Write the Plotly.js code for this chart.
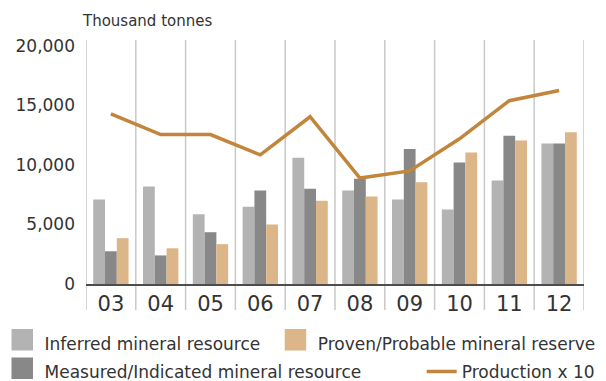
<!DOCTYPE html>
<html><head><meta charset="utf-8">
<script src="https://cdn.plot.ly/plotly-3.0.1.min.js"></script>
<style>html,body{margin:0;padding:0;background:#fff}</style>
</head><body><div id="chart" style="width:606px;height:381px"></div>
<script>
const years = ['03','04','05','06','07','08','09','10','11','12'];
const inferred = [7100, 8200, 5850, 6500, 10600, 7850, 7100, 6250, 8700, 11800];
const measured = [2750, 2400, 4350, 7850, 8000, 8850, 11350, 10200, 12450, 11800];
const proven = [3850, 3000, 3350, 5000, 7000, 7350, 8550, 11050, 12050, 12750];
const production = [14300, 12550, 12550, 10850, 14050, 8900, 9500, 12200, 15400, 16250];
const yTicks = [0, 5000, 10000, 15000, 20000];

const FONT = 'DejaVu Sans';
const traces = [
  {type:'bar', name:'Inferred mineral resource', x:years, y:inferred, marker:{color:'#b3b3b3'}, legend:'legend'},
  {type:'bar', name:'Measured/Indicated mineral resource', x:years, y:measured, marker:{color:'#888888'}, legend:'legend3'},
  {type:'bar', name:'Proven/Probable mineral reserve', x:years, y:proven, marker:{color:'#dcb588'}, legend:'legend2'},
  {type:'scatter', mode:'lines', name:'Production x 10', x:years, y:production, line:{color:'#c1853b', width:3.5}, legend:'legend4'}
];

const shapes = [];
for (let i = 0; i <= years.length; i++) {
  shapes.push({type:'line', xref:'x', yref:'paper', x0:i-0.5, x1:i-0.5, y0:-0.107, y1:1,
    line:{color:'#c9c9c9', width:1.5}, layer:'below'});
}

// plot area: left 86px, width 498px, bottom 284px, height 244px
const px = v => (v - 86) / 498;
const py = v => (284 - v) / 244;
const legBase = {orientation:'h', xanchor:'left', yanchor:'top',
  font:{family:FONT, size:17, color:'#333'}, bgcolor:'rgba(0,0,0,0)', borderwidth:0};

const layout = {
  width:606, height:381,
  margin:{l:86, r:22, t:40, b:97, autoexpand:false},
  paper_bgcolor:'#fff', plot_bgcolor:'#fff',
  font:{family:FONT, color:'#333'},
  barmode:'group', bargap:0.29, bargroupgap:0,
  showlegend:true,
  title:{text:'Thousand tonnes', x:83/606, xanchor:'left', xref:'container',
    y:1-21/381, yref:'container', yanchor:'middle', font:{family:FONT, size:15, color:'#333'}},
  xaxis:{type:'category', range:[-0.5, 9.5], showgrid:false, zeroline:false,
    showline:true, linecolor:'#4d4d4d', linewidth:2, ticks:'',
    tickfont:{family:FONT, size:21, color:'#333'}, ticklabelstandoff:0, fixedrange:true},
  yaxis:{range:[0, 20500], tickvals:yTicks, tickformat:',', showgrid:false, zeroline:false,
    showline:false, ticks:'', tickfont:{family:FONT, size:17, color:'#333'}, ticklabelstandoff:10, fixedrange:true},
  legend:Object.assign({}, legBase, {x:px(4.5), y:py(325.5)}),
  legend2:Object.assign({}, legBase, {x:px(277.7), y:py(325.5)}),
  legend3:Object.assign({}, legBase, {x:px(4.5), y:py(354)}),
  legend4:Object.assign({}, legBase, {x:px(421.7), y:py(354)}),
  shapes:shapes
};
Plotly.newPlot('chart', traces, layout, {displayModeBar:false, staticPlot:true}).then(function(gd){
  // enlarge the square legend swatches of the bar series
  gd.querySelectorAll('.legendpoints .legendbar path, .legendpoints path.legendundefined').forEach(function(p){
    p.setAttribute('d', 'M8.5,7.5H-13V-14H8.5Z');
  });
});
</script></body></html>
